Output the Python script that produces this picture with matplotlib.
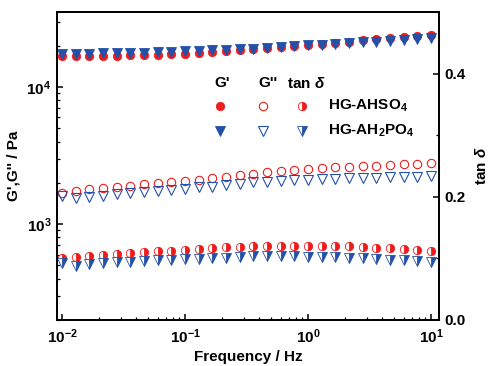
import matplotlib
matplotlib.use('Agg')
import matplotlib.pyplot as plt
from matplotlib.ticker import LogLocator, FixedLocator, NullFormatter

plt.rcParams['font.family'] = ['Liberation Sans', 'DejaVu Sans']
plt.rcParams['font.weight'] = 'bold'
plt.rcParams['mathtext.fontset'] = 'custom'
plt.rcParams['mathtext.rm'] = 'Liberation Sans:bold'
plt.rcParams['mathtext.bf'] = 'Liberation Sans:bold'
plt.rcParams['mathtext.it'] = 'Liberation Sans:italic:bold'
plt.rcParams['mathtext.default'] = 'rm'

# frequency sweep (Hz)
freq = [0.01, 0.0129, 0.0167, 0.0215, 0.0278, 0.0359, 0.0464, 0.0599, 0.0774,
        0.1, 0.129, 0.167, 0.215, 0.278, 0.359, 0.464, 0.599, 0.774,
        1.0, 1.29, 1.67, 2.15, 2.78, 3.59, 4.64, 5.99, 7.74, 10.0]

# HG-AHSO4
g1_so4 = [16700, 16700, 16760, 16840, 16930, 17040, 17130, 17220, 17330, 17510,
          17710, 17920, 18220, 18530, 18940, 19160, 19690, 20020, 20360, 20700,
          21060, 21420, 22030, 22410, 22680, 23060, 23450, 23970]
g2_so4 = [1692, 1751, 1792, 1841, 1872, 1894, 1949, 1983, 2016, 2050,
          2095, 2167, 2215, 2267, 2317, 2384, 2437, 2478, 2520, 2563,
          2593, 2619, 2650, 2664, 2696, 2728, 2742, 2789]
tan_so4 = [0.1007, 0.1023, 0.1035, 0.1062, 0.1072, 0.1083, 0.1100, 0.1116, 0.1127, 0.1144,
           0.1154, 0.1170, 0.1186, 0.1193, 0.1202, 0.1202, 0.1202, 0.1202, 0.1202, 0.1202,
           0.1202, 0.1198, 0.1186, 0.1176, 0.1165, 0.1149, 0.1137, 0.1116]

# HG-AH2PO4
g1_po4 = [17420, 17420, 17480, 17540, 17620, 17710, 17800, 17920, 18010, 18160,
          18310, 18470, 18680, 18870, 19040, 19260, 19520, 19790, 20090, 20330,
          20600, 20880, 21200, 21450, 21750, 22030, 22410, 22790]
g2_po4 = [1601, 1540, 1582, 1609, 1647, 1675, 1703, 1732, 1771, 1810,
          1853, 1872, 1926, 1959, 2016, 2036, 2071, 2084, 2106, 2131,
          2141, 2156, 2167, 2178, 2192, 2192, 2203, 2229]
tan_po4 = [0.0925, 0.0872, 0.0909, 0.0925, 0.0937, 0.0948, 0.0958, 0.0969, 0.0981, 0.0991,
           0.0997, 0.1007, 0.1013, 0.1018, 0.1035, 0.1035, 0.1035, 0.1035, 0.1030, 0.1023,
           0.1018, 0.1013, 0.1002, 0.0991, 0.0981, 0.0974, 0.0965, 0.0945]

red = '#ee1c1c'
blue = '#2350a8'

st_g1_so4 = dict(ls='none', marker='o', ms=6, mfc=red, mec=red, mew=0.6)
st_g2_so4 = dict(ls='none', marker='o', ms=6, mfc='none', mec=red, mew=0.8)
st_t_so4 = dict(ls='none', marker='o', ms=6, mfc=red, mec=red, mew=0.6,
                fillstyle='right', markerfacecoloralt='white')
st_g1_po4 = dict(ls='none', marker='v', ms=6.5, mfc=blue, mec=blue, mew=0.6)
st_g2_po4 = dict(ls='none', marker='v', ms=6.5, mfc='none', mec=blue, mew=0.8)
st_t_po4 = dict(ls='none', marker='v', ms=6.5, mfc=blue, mec=blue, mew=0.6,
                fillstyle='right', markerfacecoloralt='white')

fig = plt.figure(figsize=(4.9, 3.66), dpi=100)
ax = fig.add_axes([0.1163, 0.1257, 0.7796, 0.8415])
ax2 = ax.twinx()

ax.plot(freq, g1_so4, **st_g1_so4)
ax.plot(freq, g1_po4, **st_g1_po4)
ax.plot(freq, g2_so4, **st_g2_so4)
ax.plot(freq, g2_po4, **st_g2_po4)
ax2.plot(freq, tan_so4, **st_t_so4)
ax2.plot(freq, tan_po4, **st_t_po4)

ax.set_xscale('log')
ax.set_yscale('log')
ax.set_xlim(0.00911, 11.6)
ax.set_ylim(200, 35200)
ax2.set_ylim(0, 0.5)

ax.set_xticks([0.01, 0.1, 1, 10])
ax.set_xticklabels([r'$10^{-2}$', r'$10^{-1}$', r'$10^{0}$', r'$10^{1}$'])
ax.xaxis.set_minor_locator(LogLocator(base=10, subs=range(2, 10)))
ax.xaxis.set_minor_formatter(NullFormatter())
ax.set_yticks([1000, 10000])
ax.set_yticklabels([r'$10^{3}$', r'$10^{4}$'])
ax.yaxis.set_minor_locator(LogLocator(base=10, subs=range(2, 10)))
ax.yaxis.set_minor_formatter(NullFormatter())

ax2.set_yticks([0.0, 0.2, 0.4])
ax2.set_yticklabels(['0.0', '0.2', '0.4'])
ax2.yaxis.set_minor_locator(FixedLocator([0.1, 0.3]))

for a in (ax, ax2):
    a.tick_params(which='major', direction='in', length=4.5, width=1.1, labelsize=11, pad=4)
    a.tick_params(which='minor', direction='in', length=2.5, width=0.9)
    for sp in a.spines.values():
        sp.set_linewidth(1.3)
ax.tick_params(axis='both', top=False, right=False)
ax.tick_params(axis='x', pad=5)

ax.set_xlabel('Frequency / Hz', fontsize=11, fontweight='bold', labelpad=3)
ax.set_ylabel("G',G'' / Pa", fontsize=11, fontweight='bold', labelpad=4)
ax2.set_ylabel(r'tan $\mathit{\delta}$', fontsize=11, fontweight='bold', labelpad=6)

# legend block
tr = ax.transAxes
ax.text(0.432, 0.769, "G'", transform=tr, ha='center', va='center', fontsize=11, fontweight='bold')
ax.text(0.552, 0.769, "G''", transform=tr, ha='center', va='center', fontsize=11, fontweight='bold')
ax.text(0.652, 0.769, r'tan $\mathit{\delta}$', transform=tr, ha='center', va='center',
        fontsize=11, fontweight='bold')
for yy, styles, lab in [(0.696, (st_g1_so4, st_g2_so4, st_t_so4), 'HG-AHSO$_4$'),
                        (0.615, (st_g1_po4, st_g2_po4, st_t_po4), 'HG-AH$_2$PO$_4$')]:
    for xx, st in zip((0.427, 0.539, 0.641), styles):
        ax.plot([xx], [yy], transform=tr, clip_on=False, **st)
    ax.text(0.709, yy, lab, transform=tr, ha='left', va='center', fontsize=11, fontweight='bold')

plt.savefig('out.png', dpi=100, facecolor='white')
